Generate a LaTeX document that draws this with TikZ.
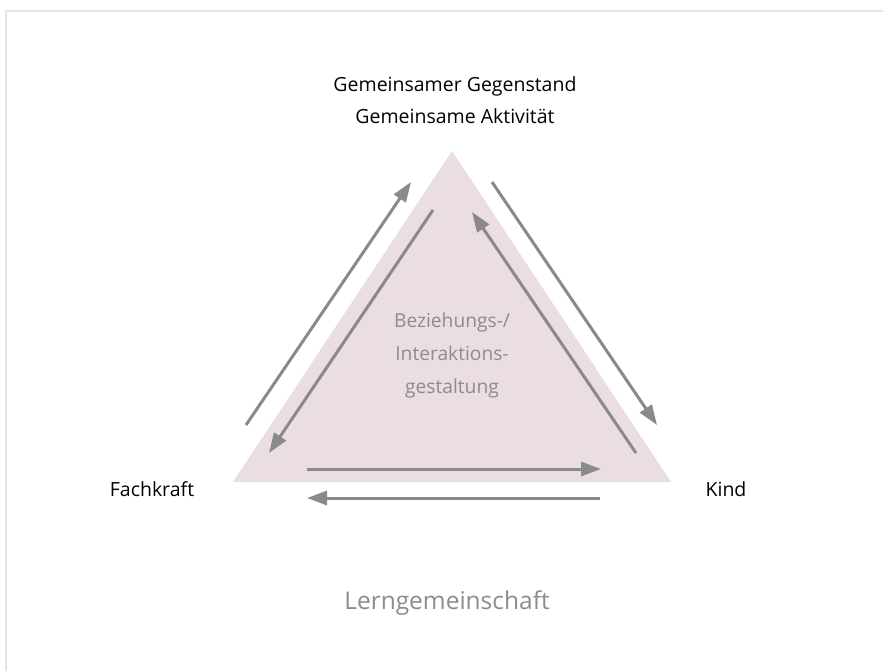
\documentclass[tikz,border=0pt]{standalone}
\usepackage{fontspec}
\setmainfont{Open Sans}
\usetikzlibrary{arrows.meta}
\definecolor{framegray}{HTML}{E4E4E4}
\definecolor{arrowgray}{HTML}{8A8A8A}
\definecolor{trifill}{HTML}{EBDEE1}
\definecolor{txtgray}{HTML}{8C8C8C}
\tikzset{
  flow/.style={draw=arrowgray, line width=3pt, -{Triangle[length=20pt,width=14pt]}},
  lbl/.style={text=black, font=\fontsize{19.5}{32}\selectfont, inner sep=0pt, align=center},
  inner/.style={text=txtgray, font=\fontsize{19.2}{33}\selectfont, inner sep=0pt, align=center},
}
\begin{document}
\begin{tikzpicture}[x=1pt,y=-1pt]
\useasboundingbox (0,0) rectangle (883,671);
\fill[white] (0,0) rectangle (883,671);
\draw[framegray, line width=2pt] (6,671) -- (6,11.5) -- (883,11.5);
% triangle
\fill[trifill] (452,151) coordinate (apex) -- (671,482) coordinate (br) -- (233,482) coordinate (bl) -- cycle;
% labels
\node[lbl] (top) at (455,100) {Gemeinsamer Gegenstand\\Gemeinsame Aktivität};
\node[lbl] (fach) at (152,489) {Fachkraft};
\node[lbl] (kind) at (726,489) {Kind};
\node[inner] (bez) at (452,356) {Beziehungs-/\\Interaktions-\\gestaltung};
\node[text=txtgray, font=\fontsize{24.5}{28}\selectfont, inner sep=0pt] (lern) at (447,603) {Lerngemeinschaft};
% arrow endpoints
\coordinate (lo1) at (246,425); \coordinate (lo2) at (411,182);
\coordinate (li1) at (433,210); \coordinate (li2) at (269,453);
\coordinate (ri1) at (636,453); \coordinate (ri2) at (472,212);
\coordinate (ro1) at (492,182); \coordinate (ro2) at (657,425);
\coordinate (bt1) at (307,469); \coordinate (bt2) at (601,469);
\coordinate (bb1) at (600,498); \coordinate (bb2) at (307,498);
\draw[flow] (lo1) -- (lo2);
\draw[flow] (li1) -- (li2);
\draw[flow] (ri1) -- (ri2);
\draw[flow] (ro1) -- (ro2);
\draw[flow] (bt1) -- (bt2);
\draw[flow] (bb1) -- (bb2);
\end{tikzpicture}
\end{document}
